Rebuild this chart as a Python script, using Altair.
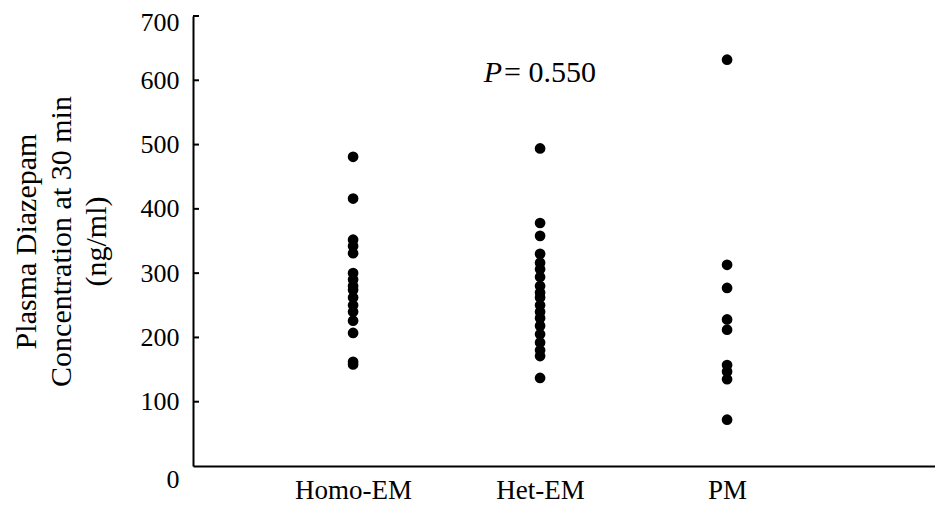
import altair as alt
import pandas as pd

groups = ["Homo-EM", "Het-EM", "PM"]
homo_em = [481, 416, 352, 342, 331, 300, 290, 280, 274, 262, 250, 240, 226, 207, 162, 158]
het_em = [494, 378, 358, 330, 316, 306, 294, 280, 270, 262, 250, 240, 230, 218, 205, 192, 180, 171, 137]
pm = [632, 313, 277, 228, 212, 157, 147, 135, 72]
y_ticks = [0, 100, 200, 300, 400, 500, 600, 700]
p_group = ["Het-EM"]
p_value = [612]
p_italic = ["P"]
p_rest = ["= 0.550"]

rows = []
for g, vals in zip(groups, [homo_em, het_em, pm]):
    for v in vals:
        rows.append({"group": g, "value": v})
df = pd.DataFrame(rows)
ticks_df = pd.DataFrame({"value": y_ticks[1:]})
ptxt = pd.DataFrame({"group": p_group, "value": p_value, "a": p_italic, "b": p_rest})

FONT = "Liberation Serif"

x_enc = alt.X(
    "group:N",
    sort=groups,
    scale=alt.Scale(type="point", padding=0.984, align=0.435),
    axis=alt.Axis(
        title=None, ticks=False, labelAngle=0, labelFont=FONT, labelFontSize=27,
        labelColor="black", labelPadding=32, labelBaseline="alphabetic",
        domainColor="black", domainWidth=2, grid=False,
    ),
)
y_enc = alt.Y(
    "value:Q",
    scale=alt.Scale(domain=[0, 700], nice=False),
    axis=alt.Axis(
        values=y_ticks, ticks=False, grid=False, labelFont=FONT, labelFontSize=26,
        labelColor="black", labelPadding=14, domainColor="black", domainWidth=2,
        labelBaseline={"condition": {"test": "datum.value === 0", "value": "top"}, "value": "middle"},
        labelOffset={"condition": {"test": "datum.value === 700", "value": 6}, "value": 0},
        title=["Plasma Diazepam", "Concentration at 30 min", "(ng/ml)"],
        titleFont=FONT, titleFontSize=30, titleFontWeight="normal", titleColor="black",
        titleLineHeight=35, titlePadding=29,
    ),
)

points = alt.Chart(df).mark_circle(size=115, color="black", opacity=1).encode(x=x_enc, y=y_enc)

tick_rules = alt.Chart(ticks_df).mark_rule(color="black", strokeWidth=2).encode(
    y=alt.Y("value:Q"), x=alt.value(0), x2=alt.value(6)
)

p1 = alt.Chart(ptxt).mark_text(
    align="right", baseline="middle", dx=-38, font=FONT, fontSize=30, fontStyle="italic", color="black"
).encode(x=alt.X("group:N", sort=groups), y=alt.Y("value:Q"), text="a:N")
p2 = alt.Chart(ptxt).mark_text(
    align="left", baseline="middle", dx=-36, font=FONT, fontSize=30, color="black"
).encode(x=alt.X("group:N", sort=groups), y=alt.Y("value:Q"), text="b:N")

chart = (
    alt.layer(points, tick_rules, p1, p2)
    .properties(
        width=742, height=450,
        autosize=alt.AutoSizeParams(type="none"),
        padding={"left": 185, "top": 8, "right": 0, "bottom": 39},
        background="white",
    )
    .configure_view(stroke=None)
)

chart.save("out.html", embed_options={"renderer": "svg", "actions": False})
